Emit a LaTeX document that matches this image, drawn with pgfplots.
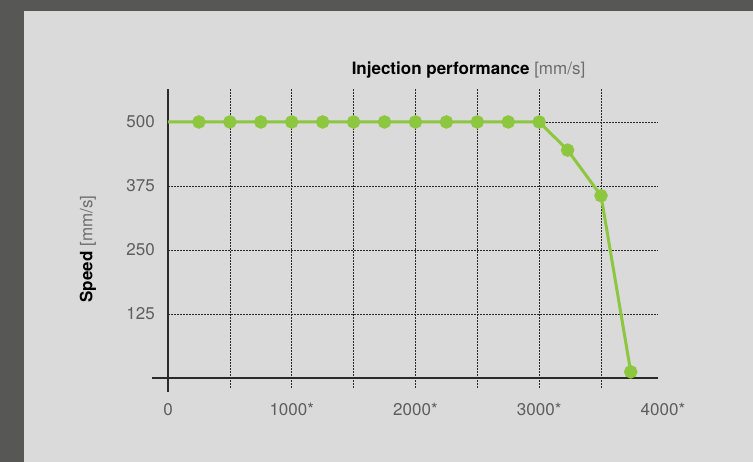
\documentclass[border=0pt]{standalone}
\usepackage{fontspec}
\setmainfont{TeX Gyre Heros}
\usepackage{pgfplots}
\pgfplotsset{compat=1.18}
\definecolor{darkbg}{HTML}{575755}
\definecolor{lightbg}{HTML}{DADADA}
\definecolor{grn}{HTML}{8DC63F}
\definecolor{lbl}{HTML}{5E5E5E}
\definecolor{unitc}{HTML}{6E6E6E}
\definecolor{gridc}{HTML}{2A2A2A}
\begin{document}
\begin{tikzpicture}
\fill[darkbg] (-168bp,-84bp) rectangle (585bp,378bp);
\fill[lightbg] (-144bp,-84bp) rectangle (585bp,367bp);
\begin{axis}[
  at={(0,0)}, anchor=south west, scale only axis,
  width=494.9bp, height=288.8bp,
  xmin=0, xmax=4000, ymin=0, ymax=564,
  clip=false,
  axis line style={draw=none},
  major tick length=0pt,
  tick style={draw=none},
  xtick={0,1000,2000,3000,4000},
  xticklabels={0,1000*,2000*,3000*,4000*},
  ytick={125,250,375,500},
  yticklabels={125,250,375,500},
  xticklabel style={anchor=north, inner sep=0pt, yshift=-25bp, text=lbl, font=\fontsize{17bp}{20bp}\selectfont},
  yticklabel style={anchor=east, inner sep=0pt, xshift=-13bp, text=lbl, font=\fontsize{17bp}{20bp}\selectfont},
]
% grid lines
\draw[gridc, dash pattern=on 2bp off 1bp, line width=0.7bp] (axis cs:500,-19.5) -- (axis cs:500,564);
\draw[gridc, dash pattern=on 2bp off 1bp, line width=0.7bp] (axis cs:1000,-19.5) -- (axis cs:1000,564);
\draw[gridc, dash pattern=on 2bp off 1bp, line width=0.7bp] (axis cs:1500,-19.5) -- (axis cs:1500,564);
\draw[gridc, dash pattern=on 2bp off 1bp, line width=0.7bp] (axis cs:2000,-19.5) -- (axis cs:2000,564);
\draw[gridc, dash pattern=on 2bp off 1bp, line width=0.7bp] (axis cs:2500,-19.5) -- (axis cs:2500,564);
\draw[gridc, dash pattern=on 2bp off 1bp, line width=0.7bp] (axis cs:3000,-19.5) -- (axis cs:3000,564);
\draw[gridc, dash pattern=on 2bp off 1bp, line width=0.7bp] (axis cs:3500,-19.5) -- (axis cs:3500,564);
\draw[gridc, dash pattern=on 2bp off 1bp, line width=0.7bp] (axis cs:0,125) -- (axis cs:3961,125);
\draw[gridc, dash pattern=on 2bp off 1bp, line width=0.7bp] (axis cs:0,250) -- (axis cs:3961,250);
\draw[gridc, dash pattern=on 2bp off 1bp, line width=0.7bp] (axis cs:0,375) -- (axis cs:3961,375);
\draw[gridc, dash pattern=on 2bp off 1bp, line width=0.7bp] (axis cs:0,500) -- (axis cs:3961,500);
% axis lines
\draw[gridc, line width=1.1bp] (axis cs:0,-27) -- (axis cs:0,564);
\draw[gridc, line width=1.1bp] (axis cs:-129,0) -- (axis cs:3961,0);
\addplot[grn, line width=3bp, mark=*, mark phase=2, mark repeat=1,
  mark options={solid, fill=grn, draw=none}, mark size=5.2bp]
  coordinates {(0,500) (250,500) (500,500) (750,500) (1000,500) (1250,500) (1500,500) (1750,500) (2000,500) (2250,500) (2500,500) (2750,500) (3000,500) (3230,445) (3500,356) (3740,12)};
\end{axis}
\node[anchor=base, inner sep=0pt, font=\fontsize{17bp}{20bp}\selectfont] at (300.5bp,303bp) {\textbf{Injection performance} \textcolor{unitc}{[mm/s]}};
\node[rotate=90, inner sep=0pt, font=\fontsize{17bp}{20bp}\selectfont] at (-80bp,129bp) {\textbf{Speed} \textcolor{unitc}{[mm/s]}};
\end{tikzpicture}
\end{document}
